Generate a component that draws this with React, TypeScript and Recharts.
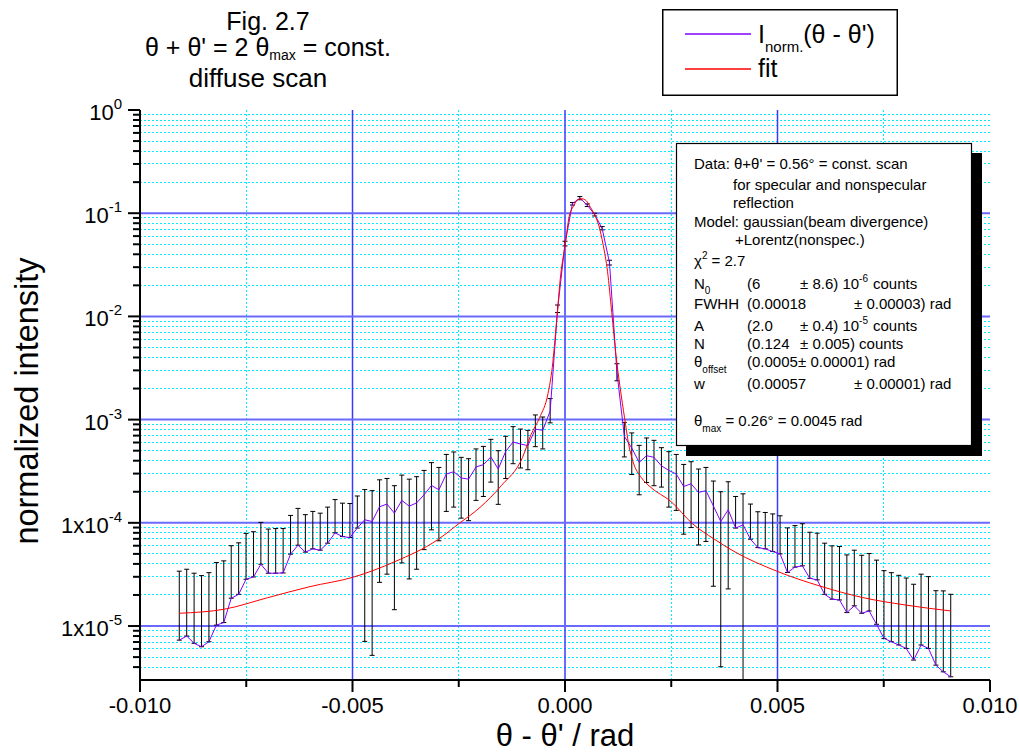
import React from 'react';
import { ComposedChart, Line, XAxis, YAxis, ErrorBar, ReferenceLine, Legend } from 'recharts';

const FONT = '"Liberation Sans", Arial, Helvetica, sans-serif';

// theta - theta' (rad), steps of 0.01 deg
const thetaDiff = [
  -0.009076, -0.008901, -0.008727, -0.008552, -0.008378, -0.008203, -0.008029, -0.007854, -0.007679, -0.007505,
  -0.00733, -0.007156, -0.006981, -0.006807, -0.006632, -0.006458, -0.006283, -0.006109, -0.005934, -0.00576,
  -0.005585, -0.005411, -0.005236, -0.005061, -0.004887, -0.004712, -0.004538, -0.004363, -0.004189, -0.004014,
  -0.00384, -0.003665, -0.003491, -0.003316, -0.003142, -0.002967, -0.002793, -0.002618, -0.002443, -0.002269,
  -0.002094, -0.00192, -0.001745, -0.001571, -0.001396, -0.001222, -0.001047, -0.000873, -0.000698, -0.000524,
  -0.000349, -0.000175, 0, 0.000175, 0.000349, 0.000524, 0.000698, 0.000873, 0.001047, 0.001222,
  0.001396, 0.001571, 0.001745, 0.00192, 0.002094, 0.002269, 0.002443, 0.002618, 0.002793, 0.002967,
  0.003142, 0.003316, 0.003491, 0.003665, 0.00384, 0.004014, 0.004189, 0.004363, 0.004538, 0.004712,
  0.004887, 0.005061, 0.005236, 0.005411, 0.005585, 0.00576, 0.005934, 0.006109, 0.006283, 0.006458,
  0.006632, 0.006807, 0.006981, 0.007156, 0.00733, 0.007505, 0.007679, 0.007854, 0.008029, 0.008203,
  0.008378, 0.008552, 0.008727, 0.008901, 0.009076,
];

const intensity = [
  7.3e-6, 8.0e-6, 6.8e-6, 6.3e-6, 7.05e-6, 1.02e-5, 1.08e-5, 1.86e-5, 2.03e-5, 2.84e-5,
  2.99e-5, 3.97e-5, 3.25e-5, 3.25e-5, 3.27e-5, 4.97e-5, 6.07e-5, 5.2e-5, 5.6e-5, 5.43e-5,
  6.35e-5, 8.0e-5, 7.36e-5, 7.2e-5, 8.9e-5, 1.07e-4, 1.03e-4, 1.43e-4, 1.52e-4, 1.24e-4,
  1.65e-4, 1.45e-4, 1.56e-4, 1.87e-4, 2.3e-4, 2.09e-4, 2.97e-4, 3.13e-4, 2.72e-4, 2.65e-4,
  3.48e-4, 3.66e-4, 4.35e-4, 3.32e-4, 4.92e-4, 6.07e-4, 5.8e-4, 5.6e-4, 8.1e-4, 7.87e-4,
  1.21e-3, 1.17e-2, 5.08e-2, 0.124, 0.14, 0.12, 0.097, 0.0714, 0.0332, 2.88e-3,
  6.9e-4, 5.3e-4, 3.85e-4, 4.47e-4, 4.31e-4, 3.57e-4, 3.22e-4, 2.97e-4, 2.25e-4, 2.39e-4,
  1.97e-4, 2.05e-4, 1.46e-4, 1.03e-4, 1.34e-4, 8.9e-5, 9.57e-5, 6.94e-5, 5.75e-5, 5.6e-5,
  5.27e-5, 5.0e-5, 3.3e-5, 3.72e-5, 3.83e-5, 2.9e-5, 2.8e-5, 2.03e-5, 1.82e-5, 1.79e-5,
  1.35e-5, 1.57e-5, 1.33e-5, 1.4e-5, 1.04e-5, 7.59e-6, 7.05e-6, 6.55e-6, 6.07e-6, 4.68e-6,
  6.55e-6, 6.07e-6, 4.18e-6, 3.6e-6, 3.22e-6,
];

const errUpper = [
  3.4e-5, 3.55e-5, 3.25e-5, 3.08e-5, 3.29e-5, 4.12e-5, 4.28e-5, 6.0e-5, 6.4e-5, 7.9e-5,
  8.2e-5, 1.01e-4, 8.7e-5, 8.8e-5, 8.8e-5, 1.18e-4, 1.38e-4, 1.2e-4, 1.29e-4, 1.24e-4,
  1.42e-4, 1.68e-4, 1.55e-4, 1.54e-4, 1.82e-4, 2.1e-4, 2.05e-4, 2.61e-4, 2.69e-4, 2.29e-4,
  2.9e-4, 2.65e-4, 2.8e-4, 3.22e-4, 3.83e-4, 3.44e-4, 4.6e-4, 4.86e-4, 4.31e-4, 4.18e-4,
  5.2e-4, 5.5e-4, 6.44e-4, 5.0e-4, 6.9e-4, 8.55e-4, 8.1e-4, 7.87e-4, 1.11e-3, 1.06e-3,
  1.6e-3, 1.29e-2, 5.35e-2, 0.127, 0.145, 0.123, 0.1, 0.0742, 0.035, 3.48e-3,
  9.4e-4, 7.43e-4, 5.63e-4, 6.64e-4, 6.3e-4, 5.35e-4, 4.89e-4, 4.6e-4, 3.68e-4, 3.91e-4,
  3.32e-4, 3.44e-4, 2.54e-4, 2.0e-4, 2.5e-4, 1.8e-4, 1.91e-4, 1.52e-4, 1.28e-4, 1.26e-4,
  1.22e-4, 1.17e-4, 8.93e-5, 9.4e-5, 9.8e-5, 8.1e-5, 7.94e-5, 6.35e-5, 5.98e-5, 5.89e-5,
  4.89e-5, 5.43e-5, 4.85e-5, 5.04e-5, 4.35e-5, 3.44e-5, 3.29e-5, 3.1e-5, 2.92e-5, 2.54e-5,
  3.18e-5, 3.01e-5, 2.2e-5, 2.19e-5, 2.03e-5,
];

// null = lower bound not positive (not drawn on log axis)
const errLower: (number | null)[] = [
  null, null, null, null, null, null, null, null, null, null,
  null, null, null, null, null, null, null, null, null, null,
  null, null, null, null, null, 7.1e-6, 5.2e-6, 2.65e-5, 3.18e-5, 1.44e-5,
  4.09e-5, 2.86e-5, 3.55e-5, 5.5e-5, 8.55e-5, 6.7e-5, 1.29e-4, 1.42e-4, 1.11e-4, 1.05e-4,
  1.65e-4, 1.8e-4, 2.48e-4, 1.51e-4, 2.69e-4, 3.74e-4, 3.4e-4, 3.27e-4, 5.47e-4, 5.2e-4,
  9.3e-4, 1.09e-2, 4.82e-2, 0.12, 0.135, 0.116, 0.094, 0.0689, 0.0315, 2.38e-3,
  4.35e-4, 2.94e-4, 1.87e-4, 2.46e-4, 2.29e-4, 2.22e-4, 1.42e-4, 1.32e-4, 7.76e-5, 9.0e-5,
  6.1e-5, 6.6e-5, 2.43e-5, 4.03e-6, 2.29e-5, null, 3.0e-6, null, null, null,
  null, null, null, null, null, null, null, null, null, null,
  null, null, null, null, null, null, null, null, null, null,
  null, null, null, null, null,
];

// fit curve
const fitX = [
  -0.00908, -0.008, -0.007, -0.006, -0.005, -0.004, -0.003, -0.0025, -0.002, -0.0015,
  -0.001, -0.0008, -0.0006, -0.0004, -0.0003, -0.0002, -0.0001, 0, 0.0001, 0.0002,
  0.0003, 0.0004, 0.0005, 0.0006, 0.0007, 0.0008, 0.0009, 0.001, 0.0011, 0.0012,
  0.0013, 0.0014, 0.0015, 0.0016, 0.0018, 0.002, 0.0025, 0.003, 0.0035, 0.004,
  0.005, 0.006, 0.007, 0.008, 0.00908,
];
const fitY = [
  1.33e-5, 1.46e-5, 1.88e-5, 2.41e-5, 2.96e-5, 4.21e-5, 6.84e-5, 9.8e-5, 1.41e-4, 2.29e-4,
  4.3e-4, 7.15e-4, 1.04e-3, 1.79e-3, 3.2e-3, 8.75e-3, 2.56e-2, 4.82e-2, 9.35e-2, 0.117,
  0.135, 0.138, 0.132, 0.114, 0.0958, 0.0748, 0.0489, 0.0274, 0.0109, 4.18e-3,
  2.0e-3, 1.05e-3, 5.7e-4, 3.91e-4, 2.73e-4, 2.24e-4, 1.6e-4, 9.8e-5, 7.0e-5, 5.22e-5,
  3.38e-5, 2.44e-5, 1.89e-5, 1.6e-5, 1.4e-5,
];

const xTicks = [-0.01, -0.0075, -0.005, -0.0025, 0, 0.0025, 0.005, 0.0075, 0.01];
const xMajor = [-0.01, -0.005, 0, 0.005, 0.01];
const xTickLabels = ['-0.010', '-0.005', '0.000', '0.005', '0.010'];
const xGridMajor = [-0.005, 0, 0.005];
const xGridMinor = [-0.0075, -0.0025, 0.0025, 0.0075];

const yDecades = [1, 0.1, 0.01, 0.001, 0.0001, 0.00001];
const yDecadeBase = ['10', '10', '10', '10', '1x10', '1x10'];
const yDecadeExp = ['0', '-1', '-2', '-3', '-4', '-5'];
const yMinorMult = [2, 3, 4, 5, 6, 7, 8, 9];
const yMinorDecades = [0.1, 0.01, 0.001, 0.0001, 0.00001, 0.000001];
const Y_MIN = 3e-6;

const yMinor: number[] = [];
yMinorDecades.forEach((d) => yMinorMult.forEach((m) => { const v = m * d; if (v > Y_MIN * 1.01 && v < 1) yMinor.push(v); }));
const yTicks = [...yDecades, ...yMinor].sort((a, b) => a - b);

const SERIES_MEASURED = 'measured';
const SERIES_FIT = 'fit';

const measured = thetaDiff.map((x, i) => ({
  x,
  y: intensity[i],
  err: [intensity[i] - (errLower[i] ?? intensity[i]), errUpper[i] - intensity[i]],
}));
const fitData = fitX.map((x, i) => ({ x, y: fitY[i] }));

const isSame = (a: number, b: number) => Math.abs(Math.log10(a) - Math.log10(b)) < 1e-6;

const YTick = (props: any) => {
  const { x, y, payload } = props;
  const i = yDecades.findIndex((d) => isSame(d, payload.value));
  const major = i >= 0;
  return (
    <g>
      <line x1={x - (major ? 12 : 7)} y1={y} x2={x} y2={y} stroke="#000" strokeWidth={2} />
      {major && (
        <text x={x - 18} y={y + 10} textAnchor="end" fontFamily={FONT} fontSize={22} fill="#000">
          <tspan>{yDecadeBase[i]}</tspan>
          <tspan dy={-11} fontSize={15}>{yDecadeExp[i]}</tspan>
        </text>
      )}
    </g>
  );
};

const XTick = (props: any) => {
  const { x, y, payload } = props;
  const i = xMajor.findIndex((v) => Math.abs(v - payload.value) < 1e-9);
  const major = i >= 0;
  return (
    <g>
      <line x1={x} y1={y} x2={x} y2={y + (major ? 12 : 7)} stroke="#000" strokeWidth={2} />
      {major && (
        <text x={x} y={y + 33} textAnchor="middle" fontFamily={FONT} fontSize={22} fill="#000">
          {xTickLabels[i]}
        </text>
      )}
    </g>
  );
};

const LegendBox = (props: any) => {
  const payload: any[] = props.payload || [];
  const m = payload.find((p) => p.value === SERIES_MEASURED);
  const f = payload.find((p) => p.value === SERIES_FIT);
  return (
    <svg width={236} height={87} style={{ display: 'block' }}>
      <rect x={0.75} y={0.75} width={234.5} height={85.5} fill="#fff" stroke="#000" strokeWidth={1.5} />
      {m && (
        <g>
          <line x1={23} x2={89} y1={25} y2={25} stroke={m.color} strokeWidth={1.3} />
          <text x={96} y={34} fontFamily={FONT} fontSize={25} fill="#000">
            I<tspan fontSize={15} dy={9}>norm.</tspan>
            <tspan dy={-9}>(θ - θ')</tspan>
          </text>
        </g>
      )}
      {f && (
        <g>
          <line x1={23} x2={89} y1={60} y2={60} stroke={f.color} strokeWidth={1.3} />
          <text x={96} y={68} fontFamily={FONT} fontSize={25} fill="#000">fit</text>
        </g>
      )}
    </svg>
  );
};

const A_FS = 15;
const MINOR_GRID = '#00f0ff';

export default function App() {
  return (
    <div style={{ position: 'absolute', left: 0, top: 0, width: 1019, height: 755, background: '#fff' }}>
      <ComposedChart width={1019} height={755} margin={{ top: 110, right: 29, bottom: 15, left: 60 }}>
        {xGridMinor.map((v) => (
          <ReferenceLine key={'xm' + v} x={v} stroke={MINOR_GRID} strokeDasharray="2 2" strokeWidth={1} shapeRendering="crispEdges" />
        ))}
        {yMinor.map((v) => (
          <ReferenceLine key={'ym' + v} y={v} stroke={MINOR_GRID} strokeDasharray="2 2" strokeWidth={1} shapeRendering="crispEdges" />
        ))}
        {xGridMajor.map((v) => (
          <ReferenceLine key={'xM' + v} x={v} stroke="#3a3aff" strokeWidth={1.5} />
        ))}
        {yDecades.slice(1).map((v) => (
          <ReferenceLine key={'yM' + v} y={v} stroke="#6a6aff" strokeWidth={2} />
        ))}
        <XAxis
          type="number"
          dataKey="x"
          domain={[-0.01, 0.01]}
          ticks={xTicks}
          interval={0}
          tick={<XTick />}
          tickLine={false}
          tickSize={0}
          tickMargin={0}
          axisLine={{ stroke: '#000', strokeWidth: 2 }}
          height={60}
          allowDataOverflow
        />
        <YAxis
          type="number"
          scale="log"
          domain={[Y_MIN, 1]}
          ticks={yTicks}
          interval={0}
          tick={<YTick />}
          tickLine={false}
          tickSize={0}
          tickMargin={0}
          axisLine={{ stroke: '#000', strokeWidth: 2 }}
          width={80}
          allowDataOverflow
        />
        <Line
          data={measured}
          dataKey="y"
          name={SERIES_MEASURED}
          type="linear"
          stroke="#8000ff"
          strokeWidth={1}
          dot={false}
          activeDot={false}
          isAnimationActive={false}
        >
          <ErrorBar dataKey="err" width={2.5} stroke="#000" strokeWidth={1} direction="y" isAnimationActive={false} />
        </Line>
        <Line
          data={fitData}
          dataKey="y"
          name={SERIES_FIT}
          type="monotone"
          stroke="#ff0000"
          strokeWidth={1}
          dot={false}
          activeDot={false}
          isAnimationActive={false}
        />
        <Legend
          layout="horizontal"
          verticalAlign="middle"
          align="center"
          wrapperStyle={{ left: 662, top: 9, width: 236, height: 87 }}
          content={<LegendBox />}
        />
      </ComposedChart>
      <svg
        width={1019}
        height={755}
        style={{ position: 'absolute', left: 0, top: 0, pointerEvents: 'none' }}
        fontFamily={FONT}
      >
        <g fill="#000" fontSize={25}>
          <text x={268} y={30} textAnchor="middle">Fig. 2.7</text>
          <text x={268} y={55.5} textAnchor="middle">
            θ + θ' = 2 θ<tspan fontSize={14} dy={4}>max</tspan>
            <tspan dy={-4}> = const.</tspan>
          </text>
          <text x={258} y={87} textAnchor="middle" fontSize={26}>diffuse scan</text>
        </g>
        <text transform="translate(38,401) rotate(-90)" textAnchor="middle" fontSize={32.5} fill="#000">
          normalized intensity
        </text>
        <text x={565} y={746} textAnchor="middle" fontSize={31} fill="#000">θ - θ' / rad</text>

        <rect x={686} y={153} width={296} height={303} fill="#000" />
        <rect x={676.5} y={143.5} width={295} height={302} fill="#fff" stroke="#000" strokeWidth={1.2} />
        <g fontSize={A_FS} fill="#000">
          <text x={694} y={168.7}>Data: θ+θ' = 0.56° = const. scan</text>
          <text x={733} y={189.7}>for specular and nonspecular</text>
          <text x={733} y={207.7}>reflection</text>
          <text x={694} y={227}>Model: gaussian(beam divergence)</text>
          <text x={735} y={245.4}>+Lorentz(nonspec.)</text>
          <text x={694} y={266}>
            χ<tspan dy={-7} fontSize={10}>2</tspan>
            <tspan dy={7}> = 2.7</tspan>
          </text>
          <text y={289.4}>
            <tspan x={694}>N</tspan>
            <tspan dy={5} fontSize={10}>0</tspan>
            <tspan x={747} dy={-5}>(6</tspan>
            <tspan x={800}>± 8.6) 10</tspan>
            <tspan dy={-7} fontSize={10}>-6</tspan>
            <tspan x={873} dy={7}>counts</tspan>
          </text>
          <text y={308.7}>
            <tspan x={694}>FWHH</tspan>
            <tspan x={747}>(0.00018</tspan>
            <tspan x={854}>± 0.00003) rad</tspan>
          </text>
          <text y={331}>
            <tspan x={694}>A</tspan>
            <tspan x={747}>(2.0</tspan>
            <tspan x={800}>± 0.4) 10</tspan>
            <tspan dy={-7} fontSize={10}>-5</tspan>
            <tspan x={873} dy={7}>counts</tspan>
          </text>
          <text y={348.7}>
            <tspan x={694}>N</tspan>
            <tspan x={747}>(0.124</tspan>
            <tspan x={800}>± 0.005) counts</tspan>
          </text>
          <text y={367}>
            <tspan x={694}>θ</tspan>
            <tspan dy={6} fontSize={10}>offset</tspan>
            <tspan x={747} dy={-6}>(0.0005</tspan>
            <tspan x={798}>± 0.00001) rad</tspan>
          </text>
          <text y={388.7}>
            <tspan x={694}>w</tspan>
            <tspan x={747}>(0.00057</tspan>
            <tspan x={854}>± 0.00001) rad</tspan>
          </text>
          <text x={694} y={426}>
            θ<tspan dy={6} fontSize={10}>max</tspan>
            <tspan dy={-6}> = 0.26° = 0.0045 rad</tspan>
          </text>
        </g>
      </svg>
    </div>
  );
}
